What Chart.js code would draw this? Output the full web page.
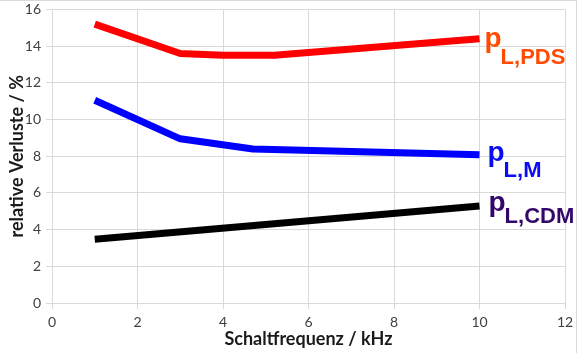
<!DOCTYPE html>
<html>
<head>
<meta charset="utf-8">
<script src="https://cdn.jsdelivr.net/npm/chart.js@4/dist/chart.umd.min.js"></script>
<style>
  html, body { margin: 0; padding: 0; background: #fff; }
  #wrap { position: relative; width: 581px; height: 353px; }
  #frame { position: absolute; left: -1px; top: 0px; width: 578px; height: 360px; border: 1px solid #d9d9d9; box-sizing: border-box; pointer-events: none; }
</style>
</head>
<body>
<div id="wrap">
  <canvas id="c" width="581" height="353"></canvas>
  <div id="frame"></div>
</div>
<script>
// ---- data ----
const freqPDS = [1, 3, 4, 5.2, 10];
const lossPDS = [15.2, 13.6, 13.5, 13.5, 14.4];
const freqM   = [1, 3, 4.7, 10];
const lossM   = [11.05, 8.95, 8.4, 8.08];
const freqCDM = [1, 10];
const lossCDM = [3.47, 5.29];
const seriesNames = ['L,PDS', 'L,M', 'L,CDM'];
const xTitle = 'Schaltfrequenz / kHz';
const yTitle = 'relative Verluste / %';

function pts(xs, ys) { return xs.map((x, i) => ({ x: x, y: ys[i] })); }

const labelStyles = [
  { color: '#ff4a00', dx: 5, pdy: 8.5, sdy: 25 },
  { color: '#0a0af5', dx: 8, pdy: 6, sdy: 22 },
  { color: '#33066a', dx: 9, pdy: 5.5, sdy: 17 }
];

const endLabels = {
  id: 'endLabels',
  afterDatasetsDraw(chart) {
    const ctx = chart.ctx;
    chart.data.datasets.forEach((ds, i) => {
      const meta = chart.getDatasetMeta(i);
      const last = meta.data[meta.data.length - 1];
      const st = labelStyles[i];
      const x = last.x + st.dx;
      ctx.save();
      ctx.fillStyle = st.color;
      ctx.textBaseline = 'alphabetic';
      ctx.textAlign = 'left';
      ctx.font = 'bold 28px "Liberation Sans", Arial, sans-serif';
      ctx.fillText('p', x, last.y + st.pdy);
      const pw = ctx.measureText('p').width;
      ctx.font = 'bold 22px "Liberation Sans", Arial, sans-serif';
      ctx.fillText(seriesNames[i], x + pw - 1, last.y + st.sdy);
      ctx.restore();
    });
  }
};

const gridColor = '#d9d9d9';
const tickFont = { family: 'Lato, "Open Sans", sans-serif', size: 14 };
const titleFont = { family: 'Lato, "Open Sans", sans-serif', size: 18, weight: 'bold' };

new Chart(document.getElementById('c'), {
  type: 'scatter',
  data: {
    datasets: [
      { data: pts(freqPDS, lossPDS), borderColor: '#ff0000', backgroundColor: '#ff0000' },
      { data: pts(freqM, lossM), borderColor: '#0000ff', backgroundColor: '#0000ff' },
      { data: pts(freqCDM, lossCDM), borderColor: '#000000', backgroundColor: '#000000' }
    ].map(d => Object.assign(d, { showLine: true, borderWidth: 7, pointRadius: 0, tension: 0, borderJoinStyle: 'round', borderCapStyle: 'butt' }))
  },
  options: {
    responsive: false,
    animation: false,
    layout: { padding: { top: 9.5, right: 16, left: 0, bottom: 0 } },
    plugins: { legend: { display: false }, tooltip: { enabled: false } },
    scales: {
      x: {
        type: 'linear', min: 0, max: 12,
        ticks: { stepSize: 2, color: '#404040', font: tickFont, padding: 5, maxRotation: 0 },
        grid: { color: gridColor, tickLength: 6, drawTicks: true },
        border: { color: gridColor },
        title: { display: true, text: xTitle, color: '#1a1a1a', font: titleFont, padding: { top: 0, bottom: 3 } },
        afterFit(s) { s.height = 50; s.paddingLeft = 0; s.paddingRight = 0; }
      },
      y: {
        type: 'linear', min: 0, max: 16,
        ticks: { stepSize: 2, color: '#404040', font: tickFont, padding: 5 },
        grid: { color: gridColor, tickLength: 6 },
        border: { color: gridColor },
        title: { display: true, text: yTitle, color: '#1a1a1a', font: titleFont, padding: { top: 6, bottom: 0 } },
        afterFit(s) { s.width = 52; s.paddingTop = 0; s.paddingBottom = 0; }
      }
    }
  },
  plugins: [endLabels]
});
</script>
</body>
</html>
